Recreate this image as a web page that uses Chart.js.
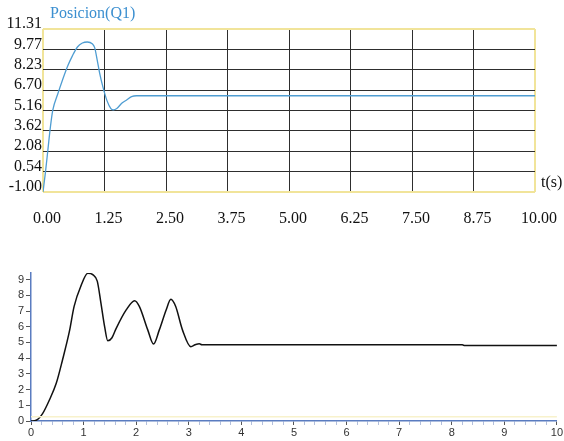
<!DOCTYPE html>
<html>
<head>
<meta charset="utf-8">
<script src="https://cdn.jsdelivr.net/npm/chart.js@4"></script>
<style>
  body { margin: 0; background: #fff; width: 564px; height: 441px; overflow: hidden; }
  #topChart { position: absolute; left: 0; top: 0; }
  #bottomChart { position: absolute; left: 0; top: 235px; }
</style>
</head>
<body>
<canvas id="topChart" width="564" height="235"></canvas>
<canvas id="bottomChart" width="564" height="206"></canvas>
<script>
// Top chart: Posicion(Q1) vs time
const tTop = [0, 0.05, 0.10, 0.15, 0.20, 0.30, 0.40, 0.50, 0.60, 0.70, 0.80, 0.90, 1.00, 1.05, 1.10, 1.15, 1.22, 1.30, 1.38, 1.43, 1.50, 1.60, 1.70, 1.80, 1.90, 2.50, 5.00, 7.50, 10.00];
const vTop = [-1.00, 0.5, 2.2, 3.9, 5.2, 6.4, 7.5, 8.5, 9.3, 9.95, 10.25, 10.33, 10.2, 9.9, 9.0, 8.0, 6.9, 5.9, 5.3, 5.2, 5.3, 5.7, 5.95, 6.2, 6.27, 6.27, 6.27, 6.27, 6.27];
const yTicksTop = [-1.00, 0.54, 2.08, 3.62, 5.16, 6.70, 8.23, 9.77, 11.31];
const xTicksTop = [0, 1.25, 2.5, 3.75, 5, 6.25, 7.5, 8.75, 10];

// Bottom chart: second response
const tBottom = [0, 0.10, 0.22, 0.35, 0.48, 0.60, 0.73, 0.82, 0.95, 1.08, 1.18, 1.26, 1.33, 1.40, 1.46, 1.54, 1.62, 1.81, 1.97, 2.06, 2.22, 2.33, 2.44, 2.57, 2.66, 2.75, 2.88, 3.04, 3.12, 3.20, 3.25, 8.20, 8.25, 10];
const vBottom = [0, 0.05, 0.47, 1.34, 2.4, 3.9, 5.7, 7.3, 8.6, 9.4, 9.3, 8.9, 7.5, 6.0, 5.1, 5.3, 5.9, 7.07, 7.66, 7.3, 5.8, 4.9, 5.8, 7.07, 7.75, 7.3, 5.8, 4.73, 4.85, 4.92, 4.85, 4.85, 4.8, 4.8];
const refBottom = [0.27, 0.27]; // faint yellow line near the base
const refBottomT = [0, 10];

const serif = 'Liberation Serif, Times New Roman, serif';
const yellow = '#f1e49a';
const gridDark = '#2e2e2e';

// text that sits outside the axes on the top chart
const topLabels = {
  id: 'topLabels',
  afterDraw(chart) {
    const c = chart.ctx;
    c.save();
    c.font = '16px ' + serif;
    c.textBaseline = 'middle';
    c.textAlign = 'left';
    c.fillStyle = '#3b8fd0';
    c.fillText('Posicion(Q1)', 50, 14);
    c.fillStyle = '#111';
    c.fillText('t(s)', chart.chartArea.right + 6, 183);
    c.restore();
  }
};

function edgeColor(ctx, n) {
  return (ctx.index === 0 || ctx.index === n - 1) ? yellow : gridDark;
}
function edgeWidth(ctx, n) {
  return (ctx.index === 0 || ctx.index === n - 1) ? 2 : 1;
}

new Chart(document.getElementById('topChart').getContext('2d'), {
  type: 'line',
  data: {
    datasets: [{
      data: tTop.map((t, i) => ({x: t, y: vTop[i]})),
      borderColor: '#4f9dd2',
      borderWidth: 1.3,
      pointRadius: 0,
      cubicInterpolationMode: 'monotone',
      fill: false
    }]
  },
  options: {
    responsive: false,
    animation: false,
    layout: { padding: { top: 29, right: 29, left: 0, bottom: 0 } },
    plugins: { legend: { display: false }, tooltip: { enabled: false } },
    scales: {
      x: {
        type: 'linear',
        min: 0,
        max: 10,
        afterBuildTicks: s => { s.ticks = xTicksTop.map(v => ({value: v})); },
        afterFit: s => { s.height = 43; s.paddingRight = 0; },
        border: { display: false },
        grid: {
          drawTicks: false,
          color: ctx => edgeColor(ctx, xTicksTop.length),
          lineWidth: ctx => edgeWidth(ctx, xTicksTop.length)
        },
        ticks: {
          padding: 17,
          labelOffset: 4,
          maxRotation: 0,
          autoSkip: false,
          color: '#111',
          font: { family: serif, size: 16 },
          callback: v => Number(v).toFixed(2)
        }
      },
      y: {
        min: -1,
        max: 11.31,
        afterBuildTicks: s => { s.ticks = yTicksTop.map(v => ({value: v})); },
        afterFit: s => { s.width = 43; },
        border: { display: false },
        grid: {
          drawTicks: false,
          color: ctx => edgeColor(ctx, yTicksTop.length),
          lineWidth: ctx => edgeWidth(ctx, yTicksTop.length)
        },
        ticks: {
          padding: 1,
          labelOffset: -5,
          autoSkip: false,
          color: '#111',
          font: { family: serif, size: 16 },
          callback: v => Number(v).toFixed(2)
        }
      }
    }
  },
  plugins: [topLabels]
});

const sans = 'Liberation Sans, Arial, sans-serif';
const xTicksBottom = [];
for (let i = 0; i <= 50; i++) xTicksBottom.push(i / 5);

new Chart(document.getElementById('bottomChart').getContext('2d'), {
  type: 'line',
  data: {
    datasets: [{
      data: refBottomT.map((t, i) => ({x: t, y: refBottom[i]})),
      borderColor: '#f8f2cc',
      borderWidth: 1.5,
      pointRadius: 0
    }, {
      data: tBottom.map((t, i) => ({x: t, y: vBottom[i]})),
      borderColor: '#111',
      borderWidth: 1.5,
      pointRadius: 0,
      cubicInterpolationMode: 'monotone',
      fill: false
    }]
  },
  options: {
    responsive: false,
    animation: false,
    layout: { padding: { top: 38, right: 6, left: 0, bottom: 0 } },
    plugins: { legend: { display: false }, tooltip: { enabled: false } },
    scales: {
      x: {
        type: 'linear',
        min: 0,
        max: 10,
        afterBuildTicks: s => { s.ticks = xTicksBottom.map(v => ({value: v})); },
        afterFit: s => { s.height = 20; },
        border: { display: true, color: '#5a7cc0', width: 1.5 },
        grid: {
          drawOnChartArea: false,
          tickLength: 4,
          tickColor: ctx => (ctx.tick && Number.isInteger(ctx.tick.value)) ? '#555' : '#b4c0dc'
        },
        ticks: {
          padding: 1,
          autoSkip: false,
          maxRotation: 0,
          color: '#333',
          font: { family: sans, size: 11 },
          callback: v => Number.isInteger(v) ? String(v) : ''
        }
      },
      y: {
        min: 0,
        max: 9.42,
        afterBuildTicks: s => { s.ticks = [0, 1, 2, 3, 4, 5, 6, 7, 8, 9].map(v => ({value: v})); },
        afterFit: s => { s.width = 31; },
        border: { display: true, color: '#5a7cc0', width: 1.5 },
        grid: { drawOnChartArea: false, tickLength: 5, tickColor: '#555' },
        ticks: {
          padding: 2,
          autoSkip: false,
          color: '#333',
          font: { family: sans, size: 11 }
        }
      }
    }
  }
});
</script>
</body>
</html>
